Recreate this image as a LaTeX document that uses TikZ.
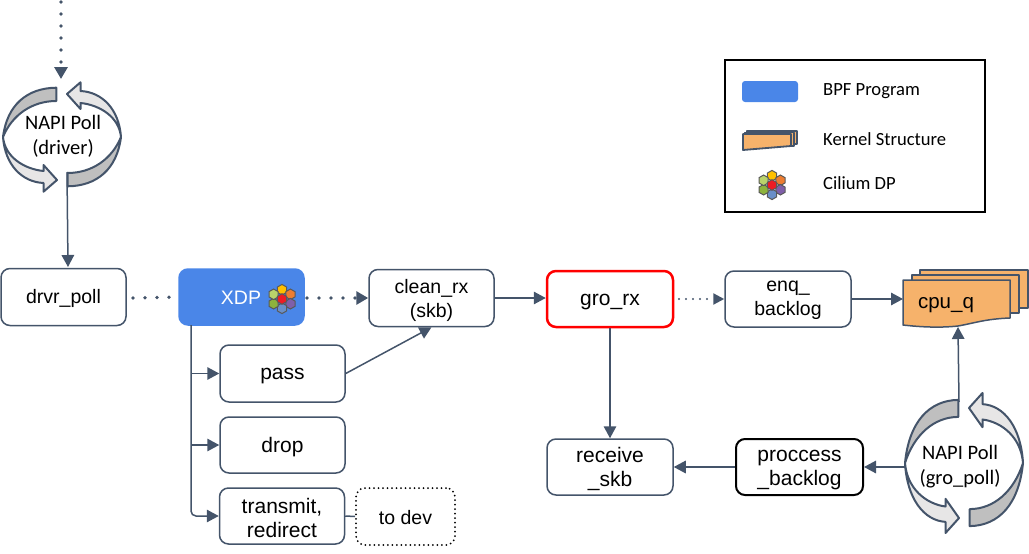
\documentclass[tikz,border=0pt]{standalone}
\usepackage{fontspec}
\setmainfont{Liberation Sans}
\newfontfamily\carl{Carlito}
\usetikzlibrary{arrows.meta}
\definecolor{slate}{HTML}{44546A}
\definecolor{bpf}{HTML}{4A86E8}
\definecolor{kern}{HTML}{F6B26B}
\definecolor{swirlgray}{HTML}{BFBFBF}
\definecolor{swirllight}{HTML}{E7E6E6}
\definecolor{hy}{HTML}{FFC000}
\definecolor{ho}{HTML}{ED7D31}
\definecolor{hp}{HTML}{7F5FA9}
\definecolor{hb}{HTML}{6A8FC8}
\definecolor{hg}{HTML}{8DB33C}
\definecolor{hl}{HTML}{B9D36B}
\definecolor{hr}{HTML}{ED1C24}
\newcommand{\low}[2][3pt]{\raisebox{-#1}[\height][\depth]{#2}}
\tikzset{
  x=1pt,y=-1pt,
  box/.style={draw=slate,line width=1.5pt,rounded corners=9pt,minimum width=125pt,minimum height=57pt,align=center,inner sep=0pt,font=\fontsize{19.5}{24}\selectfont,text=black,fill=white},
  bigbox/.style={box,minimum width=125pt,minimum height=56pt,font=\fontsize{21}{24}\selectfont},
  conn/.style={draw=slate,line width=1.5pt,-{Triangle[length=12pt,width=12.5pt]}},
  plainline/.style={draw=slate,line width=1.5pt},
  dotline/.style={draw=slate,line width=3.8pt,line cap=round,dash pattern=on 0pt off 12pt},
  dotconn/.style={dotline,-{Triangle[length=12pt,width=13pt]}},
  thindot/.style={draw=slate,line width=2.2pt,line cap=round,dash pattern=on 0pt off 7pt,-{Triangle[length=11pt,width=11pt]}},
  swirltext/.style={align=center,inner sep=0pt,font=\carl\fontsize{20.5}{25}\selectfont},
  legtext/.style={anchor=west,inner sep=0pt,font=\carl\fontsize{18.6}{20}\selectfont},
  hexa/.style={draw=black!65,line width=1pt},
}
\newcommand{\hexat}[3]{\filldraw[fill=#3,hexa] (#1+0,#2-5.3)--(#1+4.6,#2-2.65)--(#1+4.6,#2+2.65)--(#1+0,#2+5.3)--(#1-4.6,#2+2.65)--(#1-4.6,#2-2.65)--cycle;}
\newcommand{\cluster}[2]{%
  \begin{scope}[shift={(#1,#2)}]
  \hexat{0}{-9.3}{hy}
  \hexat{8.4}{-4.7}{ho}
  \hexat{8.4}{4.7}{hp}
  \hexat{0}{9.3}{hb}
  \hexat{-8.4}{4.7}{hg}
  \hexat{-8.4}{-4.7}{hl}
  \hexat{0}{0}{hr}
  \end{scope}}
\newcommand{\swirl}[3]{%
  \begin{scope}[shift={(#1,#2)},yscale=#3,draw=slate,line width=2pt,line join=round]
  \filldraw[fill=swirlgray] (-5.7,-49.3) .. controls (-35,-49) and (-55,-32) .. (-59,0) .. controls (-50,-22) and (-30,-36) .. (-5.7,-36) -- cycle;
  \filldraw[fill=swirllight] (-59,0) .. controls (-57,20) and (-38,32) .. (-18.5,34) -- (-18.5,28) -- (-5,43) -- (-18.5,54.7) -- (-18.5,46) .. controls (-40,45) and (-57,28) .. (-59,0) -- cycle;
  \filldraw[fill=swirlgray] (5.7,49.3) .. controls (35,49) and (55,32) .. (59,0) .. controls (50,22) and (30,36) .. (5.7,36) -- cycle;
  \filldraw[fill=swirllight] (59,0) .. controls (57,-20) and (38,-32) .. (18.5,-34) -- (18.5,-28) -- (5,-43) -- (18.5,-54.7) -- (18.5,-46) .. controls (40,-45) and (57,-28) .. (59,0) -- cycle;
  \end{scope}}
\begin{document}
\begin{tikzpicture}
\useasboundingbox (0,0) rectangle (1029,554);
% swirls
\swirl{62}{137}{1}
\swirl{964}{463}{1.28}
\node[swirltext] (napia) at (63,136) {NAPI Poll\\(driver)};
\node[swirltext] (napib) at (960,467) {NAPI Poll\\(gro\_poll)};
% boxes
\node[box] (drvr) at (63.5,297) {\low[1pt]{drvr\_poll}};
\node[box,draw=bpf,fill=bpf,minimum height=56pt] (xdp) at (241.5,297) {};
\node[inner sep=0pt,text=white,font=\fontsize{19.5}{24}\selectfont] (xdplabel) at (241,298) {XDP};
\cluster{282}{299}
\node[box] (clean) at (431.5,298) {\low[2pt]{clean\_rx}\\\low[2pt]{(skb)}};
\node[bigbox,draw=red,line width=2.5pt,minimum width=126pt] (gro) at (610,299) {\low{gro\_rx}};
\node[box,minimum width=126pt,minimum height=56pt] (enq) at (788,299) {\low[1pt]{enq\_}\\\low[1pt]{backlog}};
\node[bigbox,minimum height=57pt] (pass) at (282.5,373.5) {\low{pass}};
\node[bigbox] (drop) at (282.5,445) {\low[2pt]{drop}};
\node[bigbox] (trans) at (282,516) {\low[2pt]{transmit,}\\\low[2pt]{redirect}};
\node[box,draw=black,line width=2pt,line cap=round,dash pattern=on 0pt off 4.5pt,minimum width=99pt] (todev) at (405.5,516.5) {\low[1pt]{to dev}};
\node[bigbox,minimum width=126pt] (recv) at (610,467) {\low[2pt]{receive}\\\low[2pt]{\_skb}};
\node[bigbox,draw=black,line width=2pt,minimum width=127pt] (proc) at (799.5,467) {\low{proccess}\\\low{\_backlog}};
% cpu_q stack
\begin{scope}[draw=slate,line width=1.5pt,fill=kern,line join=round]
\filldraw (920,270) -- (1028,270) -- (1028,308) -- (920,308) -- cycle;
\filldraw (912,275) -- (1019,275) -- (1019,313) -- (912,313) -- cycle;
\filldraw (903,280) -- (1010,280) -- (1010,318) .. controls (985,319) and (975,323) .. (958,326) .. controls (940,328) and (920,327) .. (903,325) -- cycle;
\end{scope}
\node[inner sep=0pt,font=\fontsize{20.5}{24}\selectfont] (cpuq) at (946,305) {cpu\_q};
\coordinate (cpuqleft) at (903,299);
\coordinate (cpuqbottom) at (958,327);
% connectors
\coordinate (topstart) at (61,2);
\coordinate (napiain) at (61,79);
\coordinate (napiaout) at (67,172);
\coordinate (napibin) at (905,467);
\coordinate (napibout) at (959,402);
\coordinate (xdpstem) at (191,325);
\coordinate (stemp) at (191,373.5);
\coordinate (stemd) at (191,445);
\coordinate (stemt) at (191,516);
\coordinate (drvrdot) at (133,298);
\coordinate (xdpdot) at (307,298);
\coordinate (grodot) at (679,299);
\draw[dotconn] (topstart) -- (napiain);
\draw[conn] (napiaout) -- (68,267);
\draw[dotline] (drvrdot) -- (xdp.west);
\draw[dotconn] (xdpdot) -- (clean.west);
\draw[conn] (clean.east) -- (gro.west |- clean.east);
\draw[thindot] (grodot) -- (enq.west);
\draw[conn] (enq.east) -- (cpuqleft);
\draw[conn] (gro.south) -- (recv.north);
\draw[conn] (proc.west) -- (recv.east);
\draw[conn] (napibin) -- (proc.east);
\draw[conn] (napibout) -- (cpuqbottom);
\draw[conn] (pass.east) -- (clean.south);
\draw[plainline] (trans.east) -- (todev.west);
\draw[conn,rounded corners=5pt] (xdpstem) -- (stemt) -- (trans.west);
\draw[conn] (stemp) -- (pass.west);
\draw[conn] (stemd) -- (drop.west);
% legend
\node[draw=black,line width=2pt,minimum width=260pt,minimum height=152pt,inner sep=0pt] (legend) at (855,136) {};
\node[fill=bpf,rounded corners=3pt,minimum width=56pt,minimum height=21pt,inner sep=0pt] (legbpf) at (770,91.5) {};
\begin{scope}[draw=slate,line width=1.4pt,fill=kern,line join=round]
\filldraw (747,131) -- (797,131) -- (797,144) -- (747,144) -- cycle;
\filldraw (745,132.5) -- (794,132.5) -- (794,146) -- (745,146) -- cycle;
\filldraw[line width=1.8pt] (743,134) -- (791,134) -- (791,146) -- (743,150) -- cycle;
\end{scope}
\cluster{772}{185}
\node[legtext] (lega) at (823,91) {BPF Program};
\node[legtext] (legb) at (823,139.5) {Kernel Structure};
\node[legtext] (legc) at (823,183.5) {Cilium DP};
\end{tikzpicture}
\end{document}
